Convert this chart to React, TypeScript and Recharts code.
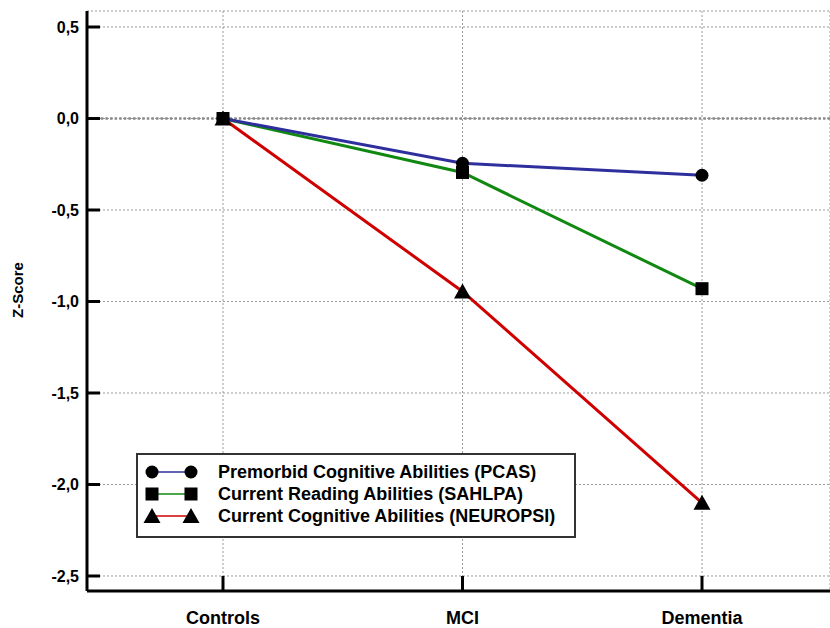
import React from "react"
import { CartesianGrid, Legend, Line, LineChart, ReferenceLine, XAxis, YAxis } from "recharts"

const categories = ["Controls", "MCI", "Dementia"]
const pcas = [0, -0.245, -0.31]
const sahlpa = [0, -0.295, -0.93]
const neuropsi = [0, -0.945, -2.1]
const yTicks = [-2.5, -2, -1.5, -1, -0.5, 0, 0.5]

const series = [
  { key: "neuropsi", name: "Current Cognitive Abilities (NEUROPSI)", color: "#d00000", shape: "triangle" },
  { key: "sahlpa", name: "Current Reading Abilities (SAHLPA)", color: "#118811", shape: "square" },
  { key: "pcas", name: "Premorbid Cognitive Abilities (PCAS)", color: "#2e2e9c", shape: "circle" },
]

const legendOrder = ["pcas", "sahlpa", "neuropsi"]

const data = categories.map((name, i) => ({
  name,
  pcas: pcas[i],
  sahlpa: sahlpa[i],
  neuropsi: neuropsi[i],
}))

const font = "'Liberation Sans', Arial, sans-serif"

function Marker({ shape, cx, cy }: { shape: string; cx: number; cy: number }) {
  if (shape === "circle") return <circle cx={cx} cy={cy} r={6.5} fill="#000" />
  if (shape === "square") return <rect x={cx - 6.5} y={cy - 6.5} width={13} height={13} fill="#000" />
  return <polygon points={`${cx},${cy - 8} ${cx + 8.5},${cy + 7} ${cx - 8.5},${cy + 7}`} fill="#000" />
}

function LegendBox() {
  return (
    <div
      style={{
        width: 436,
        height: 75,
        border: "2px solid #333",
        background: "#fff",
        paddingTop: 6,
        boxSizing: "content-box",
        fontFamily: font,
        fontWeight: "bold",
        fontSize: 18,
      }}
    >
      {legendOrder.map((k) => {
        const s = series.find((x) => x.key === k)!
        return (
          <div key={k} style={{ display: "flex", alignItems: "center", height: 22 }}>
            <svg width={80} height={22} style={{ flex: "none" }}>
              <line x1={14} x2={53} y1={11} y2={11} stroke={s.color} strokeWidth={1.5} />
              <Marker shape={s.shape} cx={14} cy={11} />
              <Marker shape={s.shape} cx={53} cy={11} />
            </svg>
            <span style={{ color: "#000", lineHeight: "22px" }}>{s.name}</span>
          </div>
        )
      })}
    </div>
  )
}

export default function App() {
  return (
    <div style={{ position: "absolute", left: 0, top: 0, width: 830, height: 628, background: "#fff" }}>
      <LineChart width={830} height={628} data={data} margin={{ top: 11, right: 0, bottom: 0, left: 0 }}>
        <CartesianGrid stroke="#9a9a9a" strokeDasharray="2 2" strokeWidth={1} />
        <XAxis
          dataKey="name"
          height={37}
          padding={{ left: 136, right: 128 }}
          axisLine={{ stroke: "#000", strokeWidth: 3 }}
          tickLine={{ stroke: "#000", strokeWidth: 3 }}
          tickSize={-15}
          tickMargin={35}
          tick={{ fill: "#000", fontFamily: font, fontWeight: "bold", fontSize: 18 }}
        />
        <XAxis
          xAxisId="top"
          orientation="top"
          dataKey="name"
          height={0}
          padding={{ left: 136, right: 128 }}
          axisLine={{ stroke: "#000", strokeWidth: 3 }}
          tickLine={false}
          tick={false}
        />
        <YAxis
          width={87}
          type="number"
          domain={[-2.582, 0.5874]}
          ticks={yTicks}
          allowDataOverflow
          axisLine={{ stroke: "#000", strokeWidth: 3 }}
          tickLine={{ stroke: "#000", strokeWidth: 3 }}
          tickSize={-13}
          tickMargin={21}
          tickFormatter={(v: number) => v.toFixed(1).replace(".", ",")}
          tick={{ fill: "#000", fontFamily: font, fontWeight: "bold", fontSize: 16 }}
          label={{
            content: () => (
              <text
                x={23}
                y={290}
                transform="rotate(-90 23 290)"
                textAnchor="middle"
                fontFamily={font}
                fontWeight="bold"
                fontSize={15}
                fill="#000"
              >
                Z-Score
              </text>
            ),
          }}
        />
        <ReferenceLine y={0} stroke="#888" strokeWidth={2.5} strokeDasharray="2.5 2.1" />
        {series.map((s) => (
          <Line
            key={s.key}
            dataKey={s.key}
            name={s.name}
            stroke={s.color}
            strokeWidth={3}
            isAnimationActive={false}
            dot={(p: any) => <Marker key={`${s.key}-${p.index}`} shape={s.shape} cx={p.cx} cy={p.cy} />}
            activeDot={false}
          />
        ))}
        <Legend
          layout="horizontal"
          verticalAlign="middle"
          content={() => <LegendBox />}
          wrapperStyle={{ position: "absolute", left: 136, top: 453, width: 440 }}
        />
      </LineChart>
    </div>
  )
}
